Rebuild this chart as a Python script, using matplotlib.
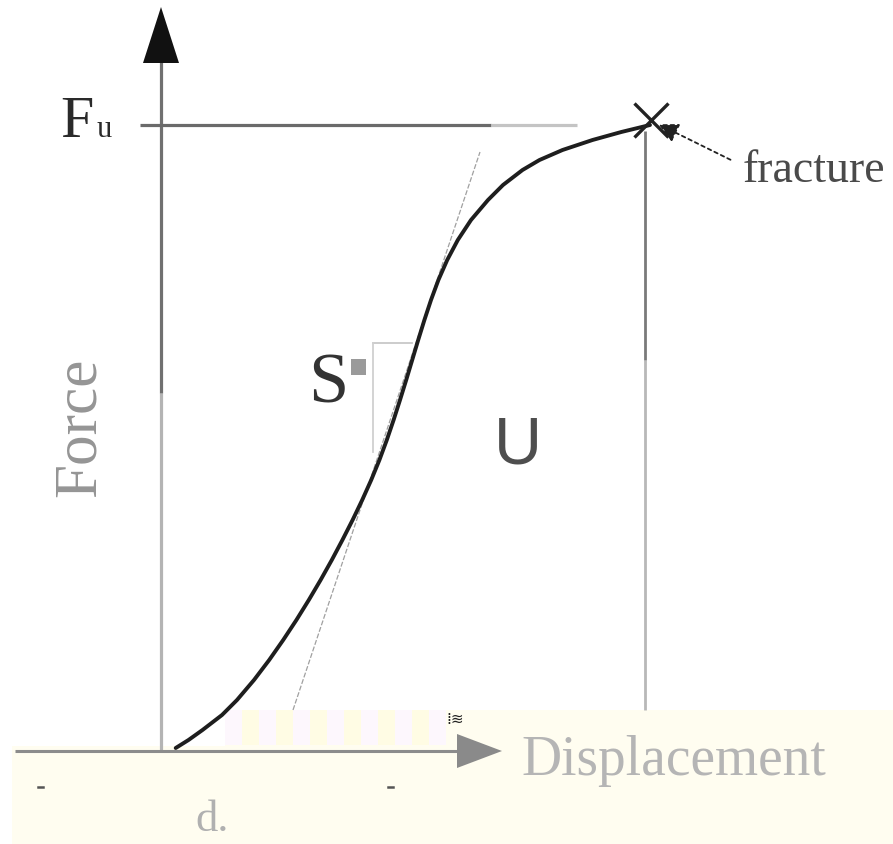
import matplotlib
matplotlib.use("Agg")
import matplotlib.pyplot as plt
from matplotlib.patches import Polygon, Rectangle

# ---- data (displacement / force in drawing units, origin at axes origin) ----
displacement = [14.7, 27.5, 41.5, 61, 76, 93, 108.2, 122.2, 135.4, 147.8, 159.6,
                170.8, 181.4, 191.6, 201.2, 210.2, 218.4, 225.8, 232.6, 239, 245.2,
                251.2, 257.2, 263.4, 270, 277.4, 286.2, 296.8, 310, 327, 342,
                361.5, 378.5, 401.5, 431.5, 460.3, 489]
force = [3, 11, 21, 36, 51, 71, 91, 111, 131, 151, 171, 191, 211, 231, 251, 271,
         291, 311, 331, 351, 371, 391, 411, 431, 451, 471, 491, 511, 531, 551,
         566, 581, 591, 601, 611, 619, 626]
fu_level = 627
fracture_disp = 489
tangent_disp = [132, 319]
tangent_force = [41, 599]
s_tri_disp = [212, 251]
s_tri_force = [299, 408]
labels = {"force": "Force", "disp": "Displacement", "fu": "F", "fu_sub": "u",
          "fracture": "fracture", "S": "S", "U": "U", "d": "d."}

SERIF = ["Liberation Serif", "DejaVu Serif"]
SANS = ["Liberation Sans", "DejaVu Sans"]

fig = plt.figure(figsize=(8.93, 8.44), dpi=100)
ax = fig.add_axes([0, 0, 1, 1])
ax.set_xlim(-161, 732)
ax.set_ylim(-93, 751)
ax.axis("off")

# cream band at the bottom
band = Polygon([(64, 41), (732, 41), (732, -93), (-149, -93), (-149, 5), (64, 5)],
               closed=True, facecolor="#fffdf0", edgecolor="none", zorder=0)
ax.add_patch(band)
stripe_cols = ["#fdf7fd", "#fffce4"]
x0 = 64
k = 0
while x0 < 277:
    w = 17
    ax.add_patch(Rectangle((x0, 6), w, 35, facecolor=stripe_cols[k % 2],
                           edgecolor="none", zorder=0.5))
    x0 += w
    k += 1
ax.text(285, 32, "⁞≋", fontsize=11, color="#222", ha="left", va="center",
        family=["DejaVu Sans"], zorder=1)

# y axis (darker upper part, lighter lower)
ax.plot([0, 0], [0, 358], color="#b4b4b4", lw=2.3, zorder=1, solid_capstyle="butt")
ax.plot([0, 0], [358, 690], color="#707070", lw=2.3, zorder=1, solid_capstyle="butt")
ax.add_patch(Polygon([(-18, 688), (18, 688), (0, 744)], closed=True,
                     facecolor="#111", edgecolor="none", zorder=2))

# x axis
ax.plot([-146, 298], [0, 0], color="#8c8c8c", lw=2.2, zorder=1, solid_capstyle="butt")
ax.add_patch(Polygon([(296, -17), (296, 17), (341, 0)], closed=True,
                     facecolor="#8a8a8a", edgecolor="none", zorder=2))
ax.plot([-123, -118], [-36, -36], color="#555", lw=1.8, zorder=1)
ax.plot([227, 232], [-36, -36], color="#555", lw=1.8, zorder=1)

# Fu line (fading to the right)
ax.plot([-21, 330], [fu_level - 1, fu_level - 1], color="#6a6a6a", lw=2.3, zorder=1,
        solid_capstyle="butt")
ax.plot([330, 416], [fu_level - 1, fu_level - 1], color="#c4c4c4", lw=2.3, zorder=1,
        solid_capstyle="butt")

# vertical line at fracture
ax.plot([fracture_disp - 5, fracture_disp - 5], [41, 391], color="#b8b8b8", lw=2.0,
        zorder=1, solid_capstyle="butt")
ax.plot([fracture_disp - 5, fracture_disp - 5], [391, 620], color="#7a7a7a", lw=2.0,
        zorder=1, solid_capstyle="butt")

# tangent line and stiffness triangle
ax.plot(tangent_disp, tangent_force, color="#a0a0a0", lw=0.9, zorder=2,
        linestyle=(0, (4, 1.5)))
ax.plot([s_tri_disp[0], s_tri_disp[1]], [s_tri_force[1], s_tri_force[1]],
        color="#c8c8c8", lw=1.3, zorder=2)
ax.plot([s_tri_disp[0], s_tri_disp[0]], [s_tri_force[1], s_tri_force[0]],
        color="#d0d0d0", lw=1.3, zorder=2)

# force-displacement curve
ax.plot(displacement, force, color="#1e1e1e", lw=2.8, zorder=3,
        solid_capstyle="round", solid_joinstyle="round")

# fracture marker
ax.plot([fracture_disp + 1], [fu_level + 4], marker="x", markersize=24,
        markeredgewidth=2.4, color="#222", zorder=4)
ax.annotate("", xy=(fracture_disp + 6, fu_level + 1), xytext=(572, 590),
            arrowprops=dict(arrowstyle="-|>", color="#222", lw=1.3,
                            linestyle=(0, (2, 2)), mutation_scale=30),
            zorder=4)

# labels
ax.text(-101, 614, labels["fu"], fontsize=43, family=SERIF, color="#2a2a2a",
        ha="left", va="baseline")
ax.text(-64, 614, labels["fu_sub"], fontsize=22, family=SERIF, color="#2a2a2a",
        ha="left", va="baseline")
ax.text(582, 569, labels["fracture"], fontsize=33, family=SERIF, color="#4a4a4a",
        ha="left", va="baseline")
ax.text(-81, 324, labels["force"], fontsize=44, family=SERIF, color="#959595",
        rotation=90, ha="center", va="center")
ax.text(360, -24, labels["disp"], fontsize=40, family=SERIF, color="#b5b5b5",
        ha="left", va="baseline")
ax.text(167, 366, labels["S"], fontsize=52, family=SERIF, color="#333",
        ha="center", va="center")
ax.add_patch(Rectangle((190, 376), 15, 16, facecolor="#9a9a9a", edgecolor="none",
                       zorder=2))
ax.text(357, 304, labels["U"], fontsize=48, family=SANS, color="#4e4e4e",
        ha="center", va="center", fontweight="light")
ax.text(34, -80, labels["d"], fontsize=32, family=SERIF, color="#b0b0b0",
        ha="left", va="baseline")

fig.savefig("out.png", dpi=100)
